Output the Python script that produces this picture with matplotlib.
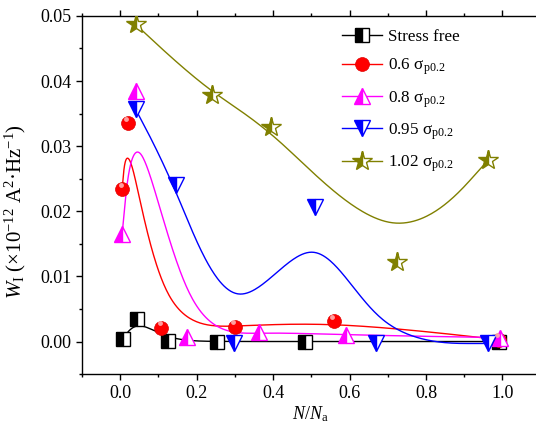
import numpy as np
import matplotlib
matplotlib.use("Agg")
import matplotlib.pyplot as plt
from matplotlib.ticker import MultipleLocator, FormatStrFormatter

plt.rcParams['font.family'] = ['Liberation Serif', 'DejaVu Serif']
plt.rcParams['mathtext.fontset'] = 'custom'
plt.rcParams['mathtext.rm'] = 'Liberation Serif'
plt.rcParams['mathtext.it'] = 'Liberation Serif:italic'
plt.rcParams['mathtext.bf'] = 'Liberation Serif:bold'

# ---- data (N/Na, W_I x1e-12) ----
sf_x = [0.007, 0.044, 0.126, 0.253, 0.484, 0.990]
sf_y = [0.0004, 0.0035, 0.0001, 0.0000, 0.0000, 0.0000]

s06_x = [0.005, 0.020, 0.108, 0.300, 0.559, 0.991]
s06_y = [0.0234, 0.0335, 0.0021, 0.0023, 0.0031, 0.0003]

s08_x = [0.005, 0.040, 0.175, 0.362, 0.592, 0.995]
s08_y = [0.0165, 0.0385, 0.0007, 0.0015, 0.0010, 0.0006]

s095_x = [0.040, 0.145, 0.298, 0.510, 0.668, 0.962]
s095_y = [0.0357, 0.0240, -0.0002, 0.0207, -0.0003, -0.0003]

s102_x = [0.040, 0.240, 0.395, 0.723, 0.962]
s102_y = [0.0487, 0.0378, 0.0330, 0.0122, 0.0278]

labels = ['Stress free', r'0.6 σ$_{\mathrm{p0.2}}$', r'0.8 σ$_{\mathrm{p0.2}}$',
          r'0.95 σ$_{\mathrm{p0.2}}$', r'1.02 σ$_{\mathrm{p0.2}}$']


def bspline(xs, ys, n=60):
    """Uniform cubic B-spline using the data as control points,
    end points repeated so the curve starts/ends on them."""
    P = np.column_stack([xs, ys])
    P = np.vstack([P[0], P[0], P, P[-1], P[-1]])
    t = np.linspace(0, 1, n)
    b0 = (1 - t) ** 3 / 6
    b1 = (3 * t ** 3 - 6 * t ** 2 + 4) / 6
    b2 = (-3 * t ** 3 + 3 * t ** 2 + 3 * t + 1) / 6
    b3 = t ** 3 / 6
    segs = []
    for i in range(len(P) - 3):
        seg = (np.outer(b0, P[i]) + np.outer(b1, P[i + 1]) +
               np.outer(b2, P[i + 2]) + np.outer(b3, P[i + 3]))
        segs.append(seg)
    C = np.vstack(segs)
    return C[:, 0], C[:, 1]


fig = plt.figure(figsize=(5.36, 4.29), dpi=100)
ax = fig.add_axes([0.153, 0.128, 0.852, 0.835])

series = [
    (sf_x, sf_y, 'black', 's', 9.5),
    (s06_x, s06_y, '#FF0000', 'o', 10),
    (s08_x, s08_y, '#FF00FF', '^', 11.5),
    (s095_x, s095_y, '#0000FF', 'v', 11.5),
    (s102_x, s102_y, '#808000', '*', 15),
]

handles = []
for (xs, ys, c, mk, ms), lab in zip(series, labels):
    cx, cy = bspline(xs, ys)
    ax.plot(cx, cy, color=c, lw=1.0, zorder=2)
    if mk == 'o':
        ax.plot(xs, ys, ls='none', marker='o', ms=ms, mfc=c, mec='#E00000', mew=0.5, zorder=4)
        ax.plot(np.array(xs) - 0.004, np.array(ys) + 0.0007, ls='none', marker='o', ms=3.5,
                mfc='#FFB0B0', mec='none', zorder=5, alpha=0.9)
        h, = ax.plot([], [], color=c, lw=1.0, marker='o', ms=ms, mfc=c, mec='#E00000', mew=0.5)
    else:
        ax.plot(xs, ys, ls='none', marker=mk, ms=ms, mfc=c, mec=c, mew=1.0,
                fillstyle='left', markerfacecoloralt='white', zorder=4)
        h, = ax.plot([], [], color=c, lw=1.0, marker=mk, ms=ms, mfc=c, mec=c, mew=1.0,
                     fillstyle='left', markerfacecoloralt='white')
    handles.append(h)

ax.set_xlim(-0.1, 1.095)
ax.set_ylim(-0.005, 0.05)
ax.xaxis.set_major_locator(MultipleLocator(0.2))
ax.xaxis.set_minor_locator(MultipleLocator(0.1))
ax.yaxis.set_major_locator(MultipleLocator(0.01))
ax.yaxis.set_minor_locator(MultipleLocator(0.005))
ax.xaxis.set_major_formatter(FormatStrFormatter('%.1f'))
ax.yaxis.set_major_formatter(FormatStrFormatter('%.2f'))
ax.tick_params(axis='both', which='major', direction='out', length=4, width=1, labelsize=13)
ax.tick_params(axis='both', which='minor', direction='out', length=2, width=1)
ax.tick_params(top=True, which='both')
ax.spines['right'].set_visible(False)
for s in ['left', 'bottom', 'top']:
    ax.spines[s].set_linewidth(1.0)

ax.set_xlabel(r'$N/N_{\mathrm{a}}$', fontsize=13, labelpad=2)
ax.set_ylabel(r'$W_{\mathrm{I}}$ (×10$^{-12}$ A$^{2}$·Hz$^{-1}$)', fontsize=15)
ax.yaxis.set_label_coords(-0.118, 0.455)

ax.legend(handles, labels, loc='upper left', bbox_to_anchor=(0.626, 0.948),
          bbox_transform=fig.transFigure, frameon=False, fontsize=12.3,
          handlelength=2.3, handletextpad=0.35, labelspacing=0.68, borderaxespad=0)

fig.savefig('out.png', dpi=100)
